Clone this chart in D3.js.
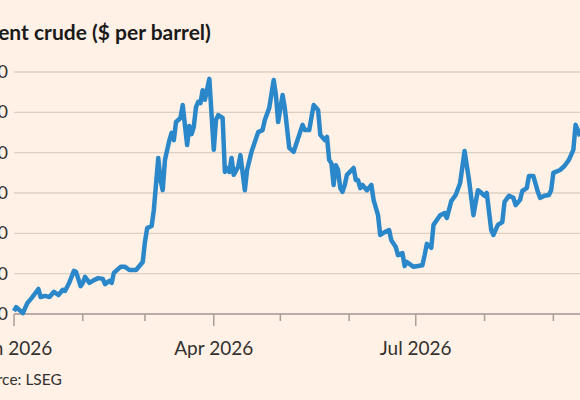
<!DOCTYPE html>
<html><head><meta charset="utf-8">
<script src="https://cdn.jsdelivr.net/npm/d3@7"></script>
<style>body{margin:0;background:#fff1e5;}svg{display:block;}</style>
</head><body>
<svg id="c" width="580" height="400"></svg>
<script>
const title = "Brent crude ($ per barrel)";
const source = "Source: LSEG";
const yTicks = [60, 70, 80, 90, 100, 110, 120];
const majorTicks = ["2026-01-01", "2026-04-01", "2026-07-01"];
// [days since 1 Jan 2026, price]
const series = [[0,60.7],[1,61.7],[4,60.2],[6,62.7],[8,64.0],[11,66.2],[12,64.2],[14,64.5],[16,64.2],[18,65.5],[20,64.7],[22,66.0],[23,65.7],[25,67.9],[27,70.7],[28,70.4],[30,66.9],[31,67.7],[32,69.2],[34,67.7],[36,68.4],[38,68.9],[40,68.7],[41,67.4],[43,68.2],[44,67.7],[45,70.2],[48,71.7],[50,71.7],[52,70.9],[55,70.9],[58,72.9],[59,77.9],[60,81.3],[62,81.8],[63,85.8],[65,98.7],[66,93.2],[67,90.7],[68,98.2],[70,103.1],[71,104.9],[72,103.1],[73,107.6],[75,108.6],[76,111.8],[78,101.9],[79,106.6],[80,104.6],[81,106.4],[82,111.3],[83,112.6],[84,112.3],[85,115.5],[86,113.1],[88,118.3],[90,100.7],[91,108.1],[92,109.3],[94,108.6],[95,95.2],[96,96.2],[97,95.2],[98,98.7],[99,94.5],[101,96.5],[102,99.4],[104,90.7],[105,95.7],[107,100.2],[110,105.1],[112,105.6],[113,108.1],[115,111.1],[117,118.0],[118,114.3],[119,107.6],[121,114.3],[122,111.1],[124,101.2],[126,100.2],[127,101.9],[130,106.9],[131,105.6],[133,105.6],[135,111.8],[137,110.6],[138,104.4],[140,103.1],[141,103.9],[142,98.2],[143,97.4],[144,92.0],[145,96.9],[146,95.7],[147,91.2],[148,90.3],[149,92.0],[150,94.5],[153,96.2],[154,93.2],[155,93.2],[156,91.2],[157,92.0],[159,90.7],[161,92.0],[162,88.3],[164,84.5],[165,79.6],[167,80.3],[169,80.8],[170,78.3],[172,76.6],[173,74.6],[175,75.1],[176,71.9],[177,72.9],[180,71.7],[182,71.9],[184,72.1],[185,74.6],[186,77.4],[188,76.4],[189,82.1],[192,84.5],[194,85.0],[195,83.8],[197,88.0],[199,89.5],[201,92.5],[203,100.4],[205,93.2],[207,84.5],[209,90.7],[210,90.3],[212,89.3],[213,90.0],[215,80.8],[216,79.6],[218,82.1],[220,82.8],[221,87.8],[223,89.3],[225,88.8],[226,87.0],[228,88.3],[229,90.5],[231,91.2],[232,94.2],[234,94.2],[236,90.3],[237,88.8],[239,89.3],[241,89.5],[242,90.7],[243,95.0],[246,95.7],[248,96.7],[250,98.2],[252,100.7],[253,106.9],[254,105.6],[255,104.1]];

const svg = d3.select("#c");
const W = 580, padL = 14, padT = 72, baseY = 314;
const day0 = new Date(2026, 0, 1);
const toDate = d => new Date(day0.getTime() + d * 864e5);
const x = d3.scaleTime().domain([day0, toDate(255)]).range([padL, W]);
const y = d3.scaleLinear().domain([60, 120]).range([baseY, padT]);

svg.append("text").attr("x", -23).attr("y", 40).text(title)
  .attr("font-family", "Lato, 'Open Sans', sans-serif").attr("font-weight", 700)
  .attr("font-size", 21).attr("fill", "#1a1a1a");

const g = svg.append("g");
g.selectAll(".grid").data(yTicks).join("line")
  .attr("x1", padL).attr("x2", W).attr("y1", d => y(d)).attr("y2", d => y(d))
  .attr("stroke", "#dccfc4").attr("stroke-width", 1.3);
g.selectAll(".yl").data(yTicks).join("text")
  .attr("x", 8).attr("y", d => y(d) + 6).attr("text-anchor", "end").text(d => d)
  .attr("font-family", "Lato, 'Open Sans', sans-serif").attr("font-size", 18).attr("fill", "#33302e");

const months = d3.timeMonth.range(day0, toDate(256));
const majors = majorTicks.map(s => d3.timeParse("%Y-%m-%d")(s).getTime());
svg.append("line").attr("x1", padL).attr("x2", W).attr("y1", baseY).attr("y2", baseY)
  .attr("stroke", "#a89f98").attr("stroke-width", 1.5);
svg.selectAll(".tk").data(months).join("line")
  .attr("x1", d => x(d)).attr("x2", d => x(d)).attr("y1", baseY)
  .attr("y2", d => majors.includes(d.getTime()) ? baseY + 12 : baseY + 7)
  .attr("stroke", "#a89f98").attr("stroke-width", 1.5);
svg.selectAll(".xl").data(majors).join("text")
  .attr("x", d => x(new Date(d))).attr("y", 355).attr("text-anchor", "middle")
  .text(d => d3.timeFormat("%b %Y")(new Date(d)))
  .attr("font-family", "Lato, 'Open Sans', sans-serif").attr("font-size", 19).attr("fill", "#33302e");

const line = d3.line().x(d => x(toDate(d[0]))).y(d => y(d[1]));
svg.append("path").datum(series).attr("d", line).attr("fill", "none")
  .attr("stroke", "#2a87c9").attr("stroke-width", 4.5).attr("stroke-linejoin", "round");

svg.append("text").attr("x", -29).attr("y", 385).text(source)
  .attr("font-family", "Lato, 'Open Sans', sans-serif").attr("font-size", 15.5).attr("fill", "#33302e");
</script>
</body></html>
